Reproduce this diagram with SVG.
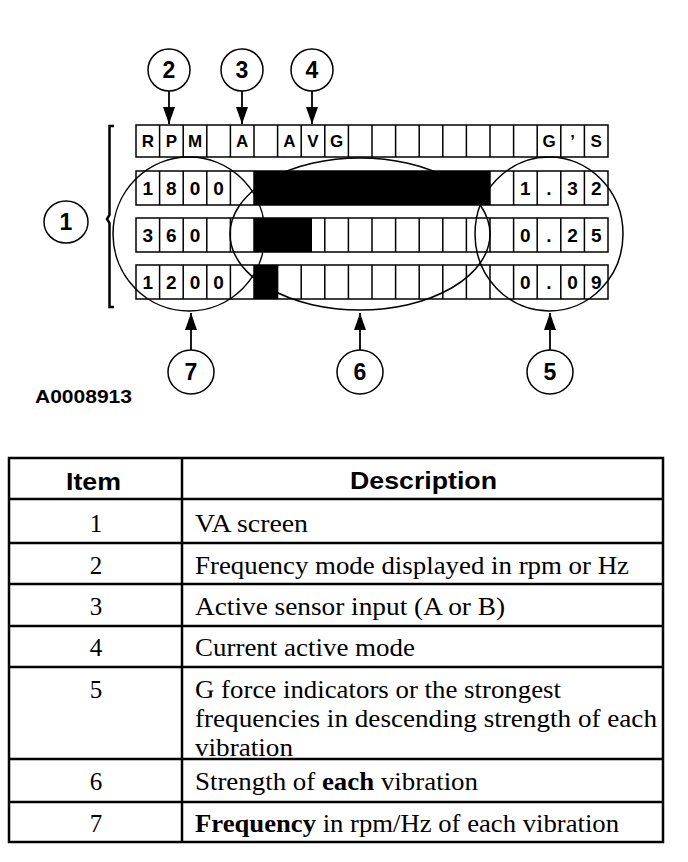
<svg xmlns="http://www.w3.org/2000/svg" width="688" height="862" viewBox="0 0 688 862">
<style>
.cell{fill:none;stroke:#000;stroke-width:1.5}
.ell{fill:none;stroke:#000;stroke-width:1.5}
.call{fill:#fff;stroke:#000;stroke-width:1.5}
.num{font-family:"Liberation Sans",Arial,sans-serif;font-weight:bold;font-size:23px;text-anchor:middle}
.ch{font-family:"Liberation Sans",Arial,sans-serif;font-weight:bold;font-size:17px;text-anchor:middle}
.dg{font-family:"Liberation Sans",Arial,sans-serif;font-weight:bold;font-size:19px;text-anchor:middle}
.conn{stroke:#000;stroke-width:1.8;fill:none}
.tbl{stroke:#000;stroke-width:2.5;fill:none}
.hd{font-family:"Liberation Sans",Arial,sans-serif;font-weight:bold;font-size:24px}
.bd{font-family:"Liberation Serif","Times New Roman",serif;font-size:25px}
.it{font-family:"Liberation Serif","Times New Roman",serif;font-size:25px;text-anchor:middle}
</style>
<defs>
<marker id="ah" markerUnits="userSpaceOnUse" markerWidth="17" markerHeight="12" viewBox="0 0 17 12" refX="17" refY="6" orient="auto">
<path d="M0,0 L17,6 L0,12 z" fill="#000"/>
</marker>
</defs>
<rect width="688" height="862" fill="#fff"/>

<g id="screen">
<g id="row-header">
<rect class="cell" x="136" y="125" width="472" height="32"/>
<path class="cell" d="M159.6,125v32M183.2,125v32M206.8,125v32M230.4,125v32M254,125v32M277.6,125v32M301.2,125v32M324.8,125v32M348.4,125v32M372,125v32M395.6,125v32M419.2,125v32M442.8,125v32M466.4,125v32M490,125v32M513.6,125v32M537.2,125v32M560.8,125v32M584.4,125v32"/>
<text class="ch" x="147.8" y="147">R</text>
<text class="ch" x="171.4" y="147">P</text>
<text class="ch" x="195" y="147">M</text>
<text class="ch" x="242.2" y="147">A</text>
<text class="ch" x="289.4" y="147">A</text>
<text class="ch" x="313" y="147">V</text>
<text class="ch" x="336.6" y="147">G</text>
<text class="ch" x="549" y="147">G</text>
<text class="ch" x="572.6" y="147">’</text>
<text class="ch" x="596.2" y="147">S</text>
</g>
<g id="row-1">
<rect class="cell" x="136" y="171" width="472" height="34"/>
<path class="cell" d="M159.6,171v34M183.2,171v34M206.8,171v34M230.4,171v34M254,171v34M490,171v34M513.6,171v34M537.2,171v34M560.8,171v34M584.4,171v34"/>
<rect x="254" y="171" width="236" height="34" fill="#000"/>
<text class="dg" x="147.8" y="195">1</text>
<text class="dg" x="171.4" y="195">8</text>
<text class="dg" x="195" y="195">0</text>
<text class="dg" x="218.6" y="195">0</text>
<text class="dg" x="525.4" y="195">1</text>
<text class="dg" x="549" y="195">.</text>
<text class="dg" x="572.6" y="195">3</text>
<text class="dg" x="596.2" y="195">2</text>
</g>
<g id="row-2">
<rect class="cell" x="136" y="218" width="472" height="34"/>
<path class="cell" d="M159.6,218v34M183.2,218v34M206.8,218v34M230.4,218v34M254,218v34M324.8,218v34M348.4,218v34M372,218v34M395.6,218v34M419.2,218v34M442.8,218v34M466.4,218v34M490,218v34M513.6,218v34M537.2,218v34M560.8,218v34M584.4,218v34"/>
<rect x="254" y="218" width="58" height="34" fill="#000"/>
<text class="dg" x="147.8" y="242">3</text>
<text class="dg" x="171.4" y="242">6</text>
<text class="dg" x="195" y="242">0</text>
<text class="dg" x="525.4" y="242">0</text>
<text class="dg" x="549" y="242">.</text>
<text class="dg" x="572.6" y="242">2</text>
<text class="dg" x="596.2" y="242">5</text>
</g>
<g id="row-3">
<rect class="cell" x="136" y="265" width="472" height="34"/>
<path class="cell" d="M159.6,265v34M183.2,265v34M206.8,265v34M230.4,265v34M254,265v34M277.6,265v34M301.2,265v34M324.8,265v34M348.4,265v34M372,265v34M395.6,265v34M419.2,265v34M442.8,265v34M466.4,265v34M490,265v34M513.6,265v34M537.2,265v34M560.8,265v34M584.4,265v34"/>
<rect x="254" y="265" width="23.6" height="34" fill="#000"/>
<text class="dg" x="147.8" y="289">1</text>
<text class="dg" x="171.4" y="289">2</text>
<text class="dg" x="195" y="289">0</text>
<text class="dg" x="218.6" y="289">0</text>
<text class="dg" x="525.4" y="289">0</text>
<text class="dg" x="549" y="289">.</text>
<text class="dg" x="572.6" y="289">0</text>
<text class="dg" x="596.2" y="289">9</text>
</g>
<g id="bracket">
<path d="M114,126 L109.5,126 L109.5,215 L107,219 L109.5,223 L109.5,307 L114,307" fill="none" stroke="#000" stroke-width="2.5"/>
</g>
<g id="ellipses">
<ellipse id="ell-7" class="ell" cx="189" cy="234" rx="76" ry="77"/>
<ellipse id="ell-6" class="ell" cx="360" cy="234" rx="130" ry="76"/>
<ellipse id="ell-5" class="ell" cx="549" cy="234" rx="74" ry="77"/>
</g>
</g>

<g id="connectors">
<line class="conn" x1="169" y1="91" x2="169" y2="124" marker-end="url(#ah)"/>
<line class="conn" x1="242" y1="91" x2="242" y2="124" marker-end="url(#ah)"/>
<line class="conn" x1="312" y1="91" x2="312" y2="124" marker-end="url(#ah)"/>
<line class="conn" x1="191" y1="350" x2="191" y2="313" marker-end="url(#ah)"/>
<line class="conn" x1="360" y1="350" x2="360" y2="313" marker-end="url(#ah)"/>
<line class="conn" x1="550" y1="350" x2="550" y2="313" marker-end="url(#ah)"/>
</g>

<g id="callout-1"><ellipse class="call" cx="66" cy="222" rx="22" ry="21"/><text class="num" x="66" y="230">1</text></g>
<g id="callout-2"><ellipse class="call" cx="169" cy="70" rx="21" ry="21"/><text class="num" x="169" y="78">2</text></g>
<g id="callout-3"><ellipse class="call" cx="242" cy="70" rx="21" ry="21"/><text class="num" x="242" y="78">3</text></g>
<g id="callout-4"><ellipse class="call" cx="312" cy="70" rx="21" ry="21"/><text class="num" x="312" y="78">4</text></g>
<g id="callout-7"><ellipse class="call" cx="191" cy="372" rx="23" ry="22"/><text class="num" x="191" y="380">7</text></g>
<g id="callout-6"><ellipse class="call" cx="360" cy="372" rx="23" ry="22"/><text class="num" x="360" y="380">6</text></g>
<g id="callout-5"><ellipse class="call" cx="550" cy="372" rx="23" ry="22"/><text class="num" x="550" y="380">5</text></g>

<text id="figure-id" x="35" y="403" font-family="Liberation Sans, Arial, sans-serif" font-weight="bold" font-size="18" textLength="97" lengthAdjust="spacingAndGlyphs">A0008913</text>

<g id="table">
<rect class="tbl" x="9" y="458" width="654" height="384"/>
<path class="tbl" d="M182,458V842M9,499H663M9,543H663M9,584H663M9,626H663M9,667H663M9,759H663M9,802H663"/>
<text class="hd" x="66" y="490" textLength="55" lengthAdjust="spacingAndGlyphs">Item</text>
<text class="hd" x="350" y="489" textLength="147" lengthAdjust="spacingAndGlyphs">Description</text>
<text class="it" x="96" y="532">1</text>
<text class="bd" x="195" y="532" textLength="113" lengthAdjust="spacingAndGlyphs">VA screen</text>
<text class="it" x="96" y="574">2</text>
<text class="bd" x="195" y="574" textLength="434" lengthAdjust="spacingAndGlyphs">Frequency mode displayed in rpm or Hz</text>
<text class="it" x="96" y="615">3</text>
<text class="bd" x="195" y="615" textLength="310" lengthAdjust="spacingAndGlyphs">Active sensor input (A or B)</text>
<text class="it" x="96" y="656">4</text>
<text class="bd" x="195" y="656" textLength="220" lengthAdjust="spacingAndGlyphs">Current active mode</text>
<text class="it" x="96" y="698">5</text>
<text class="bd" x="195" y="698" textLength="366" lengthAdjust="spacingAndGlyphs">G force indicators or the strongest</text>
<text class="bd" x="195" y="727" textLength="462" lengthAdjust="spacingAndGlyphs">frequencies in descending strength of each</text>
<text class="bd" x="195" y="756" textLength="98" lengthAdjust="spacingAndGlyphs">vibration</text>
<text class="it" x="96" y="790">6</text>
<text class="bd" x="195" y="790" textLength="283" lengthAdjust="spacingAndGlyphs">Strength of <tspan font-weight="bold">each</tspan> vibration</text>
<text class="it" x="96" y="832">7</text>
<text class="bd" x="195" y="832" textLength="424" lengthAdjust="spacingAndGlyphs"><tspan font-weight="bold">Frequency</tspan> in rpm/Hz of each vibration</text>
</g>
</svg>
